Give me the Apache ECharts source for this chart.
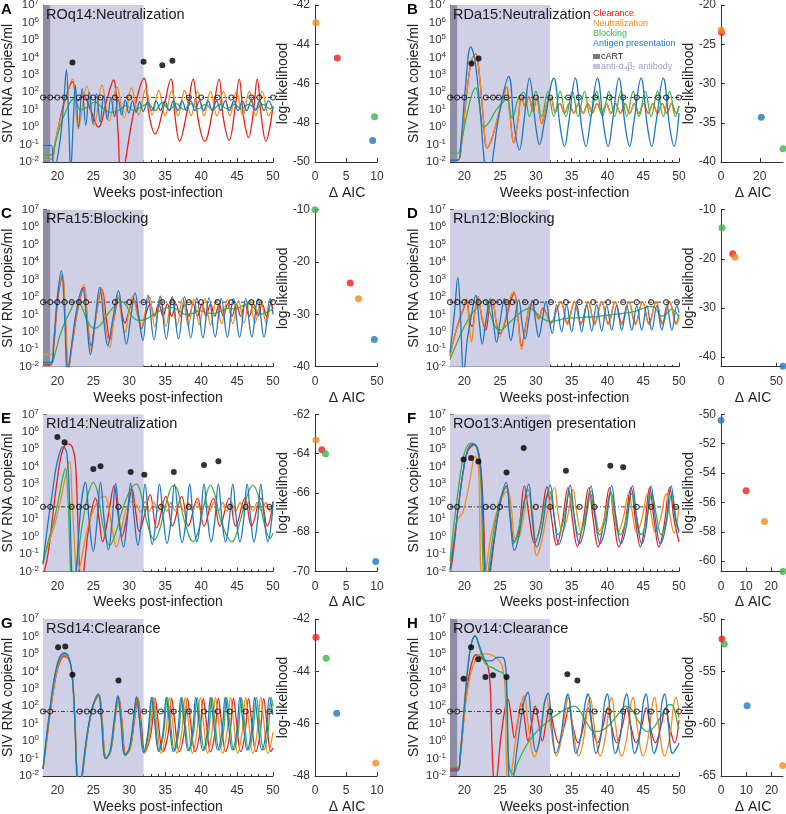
<!DOCTYPE html>
<html>
<head>
<meta charset="UTF-8">
<title>SIV RNA model fits</title>
<script src="https://cdn.jsdelivr.net/npm/echarts@6/dist/echarts.min.js"></script>
<style>
html, body { margin: 0; padding: 0; background: #fff; }
#main { width: 786px; height: 814px; }
</style>
</head>
<body>
<div id="main"></div>
<script>
// curves are [week, log10 copies/ml]; model order is red, orange, green, blue
var aRed = [[18,-1.85],[19.1,-1.85],[19.7,-0.9],[20.6,0.9],[21.4,2.0],[22.1,2.6],[22.8,1.5],[23.6,1.8],[24.6,1.0],[25.7,0.0],[26.9,1.6],[27.8,2.7],[28.4,0.0],[28.9,-3.5],[29.6,-1.6],[30.8,1.2],[32.05,2.8],[32.8,0.6],[33.6,-0.4],[34.7,1.0],[35.8,2.75],[36.4,0.5],[37.0,-0.8],[38.0,0.8],[38.9,2.75],[39.6,0.4],[40.5,-0.8],[41.6,0.9],[42.5,2.75],[43.1,0.5],[43.9,-0.75],[44.7,1.0],[45.3,2.75],[45.9,0.6],[46.6,-0.6],[47.3,1.0],[47.8,2.75],[48.4,0.5],[49.0,-0.8],[50,1.2]];
var aOrange = [[18,-1.85],[19.1,-1.85],[19.8,-0.6],[21.0,1.4],[22.1,2.75],[22.9,-0.1],[24.1,2.35],[25.1,0.1],[26.2,2.4],[27.2,0.35],[28.3,2.3],[29.3,0.55],[30.3,2.25],[31.3,0.7],[32.3,2.2],[33.2,0.7],[34.1,2.1],[35.0,0.65],[35.9,2.1],[36.8,0.65],[37.7,2.1],[38.6,0.65],[39.5,2.05],[40.4,0.65],[41.3,2.05],[42.2,0.65],[43.1,2.05],[44.0,0.65],[44.9,2.05],[45.8,0.65],[46.7,2.05],[47.6,0.65],[48.5,2.05],[49.4,0.65],[50,1.2]];
var aGreen = [[18,-1.6],[19.1,-1.6],[19.7,-0.9],[20.5,0.2],[21.5,1.2],[22.3,1.65],[23.2,1.0],[24.2,1.15],[25.2,1.45],[26.3,1.1],[27.4,0.85],[28.5,0.95],[29.6,1.25],[30.6,0.95],[31.6,1.15],[32.6,1.35],[33.6,0.95],[34.6,1.4],[35.6,1.0],[36.6,1.35],[37.6,1.0],[38.6,1.35],[39.6,1.05],[40.6,1.3],[41.6,1.0],[42.6,1.3],[43.6,1.05],[44.6,1.3],[45.6,1.05],[46.6,1.3],[47.6,1.05],[48.6,1.3],[49.6,1.05],[50,1.15]];
var aBlue = [[18,-1.05],[19.15,-1.05],[19.5,-2.5],[20.3,-1.0],[20.9,1.5],[21.25,3.3],[21.6,0.0],[21.85,-2.5],[22.2,0.2],[22.5,2.4],[22.95,0.0],[23.45,2.2],[23.95,0.1],[24.45,2.0],[24.95,0.2],[25.45,1.9],[25.95,0.3],[26.45,1.8],[26.95,0.45],[27.45,1.7],[27.95,0.6],[28.45,1.6],[28.95,0.7],[29.45,1.55],[29.95,0.8],[30.45,1.5],[30.95,0.85],[31.45,1.45],[31.95,0.9],[32.55,1.45],[33.15,0.95],[33.75,1.5],[34.35,0.95],[34.95,1.5],[35.55,0.95],[36.15,1.5],[36.75,0.95],[37.35,1.5],[37.95,0.95],[38.55,1.5],[39.15,0.95],[39.75,1.5],[40.35,0.95],[40.95,1.5],[41.55,0.95],[42.15,1.5],[42.75,0.95],[43.35,1.5],[43.95,0.95],[44.55,1.5],[45.15,0.95],[45.75,1.5],[46.35,0.95],[46.95,1.5],[47.55,0.95],[48.15,1.5],[48.75,0.95],[49.35,1.5],[50,1.0]];
var aDots = [[22.1,3.7],[32.0,3.75],[34.6,3.55],[36.0,3.8]];
var aCens = [18,19,20,21,23,24,25,26,28,30,38.3,40,42.3,44.2,47,48.1,50];
var aAic = [3.6, 0.15, 9.6, 9.3];
var aLL = [-44.7, -42.9, -47.7, -48.9];

var bOrange = [[18,-1.9],[19.1,-1.9],[19.6,-1.0],[20.3,1.8],[21.0,3.8],[21.6,4.2],[22.1,3.0],[22.6,0.8],[23.2,-1.2],[23.9,-0.6],[24.7,0.6],[25.4,1.6],[25.9,2.3],[26.4,0.6],[26.9,-0.9],[27.5,0.4],[28.0,1.7],[28.5,1.2],[29.0,1.75],[29.6,0.9],[30.1,1.7],[30.8,0.2],[31.5,1.3],[32.1,1.7],[32.7,0.85],[33.35,1.35],[34.0,0.8],[34.65,1.35],[35.3,0.8],[35.95,1.35],[36.6,0.8],[37.25,1.35],[37.9,0.8],[38.55,1.35],[39.2,0.8],[39.85,1.35],[40.5,0.8],[41.15,1.35],[41.8,0.8],[42.45,1.35],[43.1,0.8],[43.75,1.35],[44.4,0.8],[45.05,1.35],[45.7,0.8],[46.35,1.35],[47.0,0.8],[47.65,1.35],[48.3,0.8],[48.95,1.35],[49.6,0.8],[50,1.2]];
var bRed = bOrange; // clearance fit sits under the neutralization fit
var bGreen = [[18,-1.5],[19.1,-1.5],[19.6,-0.8],[20.3,0.6],[21.0,1.8],[21.6,2.25],[22.1,1.3],[22.7,0.0],[23.5,0.3],[24.3,0.9],[25.1,1.3],[25.9,1.6],[26.7,0.5],[27.5,1.6],[28.3,2.0],[29.1,0.6],[30.0,2.05],[30.8,0.6],[31.7,2.05],[32.5,0.6],[33.4,2.05],[34.2,0.6],[35.1,2.05],[35.9,0.6],[36.8,2.05],[37.6,0.6],[38.5,2.05],[39.3,0.6],[40.2,2.05],[41.0,0.6],[41.9,2.05],[42.7,0.6],[43.6,2.05],[44.4,0.6],[45.3,2.05],[46.1,0.6],[47.0,2.05],[47.8,0.6],[48.7,2.05],[49.5,0.6],[50,1.2]];
var bBlue = [[18,-1.9],[19.1,-1.9],[19.5,-1.0],[20.2,2.5],[20.9,4.6],[21.5,3.8],[22.2,1.0],[22.8,-2.0],[23.3,-3.5],[23.9,-2.0],[24.9,0.8],[26.2,2.9],[27.0,0.0],[27.7,-1.3],[28.3,0.2],[29.1,2.8],[30.0,0.0],[30.5,-1.0],[31.2,0.3],[32.5,2.8],[33.4,0.0],[34.0,-1.1],[34.6,0.3],[35.5,2.8],[36.4,0.0],[37.0,-1.1],[37.6,0.3],[38.6,2.8],[39.5,0.0],[40.1,-1.1],[40.7,0.3],[41.6,2.8],[42.5,0.0],[43.1,-1.1],[43.7,0.3],[44.7,2.8],[45.6,0.0],[46.2,-1.1],[46.8,0.3],[47.8,2.8],[48.7,0.0],[49.3,-1.1],[50,0.8]];
var bDots = [[21,3.65],[22,3.93]];
var bCens = [18,19,20,23,24,24.8,25.9,28,30,32,34.5,36,38.3,40.3,42.2,44.1,47.1,48.2,50];
var bAic = [0.3, 0.1, 32, 20.8];
var bLL = [-23.5, -23.2, -38.3, -34.3];

var cRed = [[18,-1.9],[19.1,-1.9],[19.5,-0.8],[20.1,2.0],[20.7,3.2],[21.1,0.8],[21.5,-2.2],[22.1,-0.6],[22.9,1.4],[23.7,2.55],[24.2,0.6],[24.7,-0.8],[25.3,0.7],[26.2,2.45],[26.8,0.8],[27.3,-0.45],[27.9,0.8],[28.5,2.0],[29.0,1.0],[29.4,0.5],[29.9,1.1],[30.6,1.9],[31.2,1.1],[31.7,0.2],[32.3,1.0],[32.9,1.6],[33.5,0.9],[34.1,1.6],[34.7,0.9],[35.3,1.6],[35.9,0.9],[36.5,1.6],[37.1,0.9],[37.7,1.6],[38.3,0.9],[38.9,1.6],[39.5,0.9],[40.1,1.6],[40.7,0.9],[41.3,1.6],[41.9,0.9],[42.5,1.6],[43.1,0.9],[43.7,1.6],[44.3,0.9],[44.9,1.6],[45.5,0.9],[46.1,1.6],[46.7,0.9],[47.3,1.6],[47.9,0.9],[48.5,1.6],[49.1,0.9],[49.7,1.6],[50,1.3]];
var cOrange = [[18,-1.3],[19.1,-1.3],[19.5,-0.5],[20.1,2.2],[20.7,3.3],[21.1,1.0],[21.6,-2.0],[22.1,-0.5],[22.9,1.5],[23.7,2.7],[24.2,0.5],[24.7,-1.1],[25.3,0.6],[26.1,2.55],[26.7,0.5],[27.3,-0.9],[27.8,0.6],[28.4,2.1],[28.9,0.9],[29.4,-0.05],[29.9,1.0],[30.5,2.05],[31.1,1.0],[31.7,0.25],[32.2,1.1],[32.8,2.0],[33.55,0.3],[34.35,2.0],[35.1,0.3],[35.9,1.95],[36.65,0.35],[37.45,1.95],[38.2,0.35],[39.0,1.9],[39.75,0.4],[40.55,1.9],[41.3,0.4],[42.1,1.85],[42.85,0.45],[43.65,1.85],[44.4,0.45],[45.2,1.8],[45.95,0.5],[46.75,1.8],[47.5,0.5],[48.3,1.8],[49.05,0.5],[49.85,1.8],[50,1.7]];
var cGreen = [[18,-1.8],[19.1,-1.8],[19.7,-1.2],[20.3,-0.3],[21.0,0.5],[21.8,1.2],[22.6,1.75],[23.3,1.5],[24.2,0.6],[25.1,0.2],[26.0,0.4],[27.0,1.0],[28.0,1.5],[28.9,1.75],[29.6,1.5],[30.4,0.9],[31.3,0.65],[32.2,0.7],[33.2,0.95],[34.2,1.2],[35.0,1.35],[35.8,1.4],[36.8,1.25],[37.8,1.0],[38.8,1.05],[39.8,1.2],[40.8,1.1],[41.8,1.05],[42.8,1.2],[43.8,1.35],[44.8,1.3],[45.8,1.5],[46.6,1.6],[47.4,1.35],[48.2,1.0],[49.0,1.1],[50,1.3]];
var cBlue = [[18,-1.75],[19.1,-1.75],[19.5,-0.5],[20.0,2.0],[20.55,3.5],[21.0,1.0],[21.4,-2.5],[21.9,-1.0],[22.7,1.3],[23.5,2.5],[24.1,0.5],[24.6,-1.3],[25.2,0.5],[25.9,2.55],[26.5,0.5],[27.0,-0.8],[27.7,0.7],[28.5,2.35],[29.1,0.5],[29.6,-0.7],[30.2,0.8],[30.8,2.25],[31.4,0.6],[31.9,-0.5],[32.6,2.1],[33.45,-0.45],[34.3,2.05],[35.15,-0.4],[36.0,2.0],[36.85,-0.4],[37.7,2.0],[38.55,-0.35],[39.4,1.95],[40.25,-0.35],[41.1,1.95],[41.95,-0.3],[42.8,1.9],[43.65,-0.3],[44.5,1.9],[45.35,-0.3],[46.2,1.9],[47.05,-0.3],[47.9,1.9],[48.75,-0.3],[49.6,1.9],[50,1.0]];
var cDots = [];
var cCens = [18,19,20,21,22,23,24,28,30,32,34.6,36,38.3,40,42.3,44.2,47,48.1,50];
var cAic = [28.4, 35.1, 0, 47.8];
var cLL = [-24.0, -27.0, -10.0, -34.8];

var dRed = [[18,-1.4],[18.6,-0.3],[19.3,0.7],[19.8,1.2],[20.3,1.85],[20.8,0.5],[21.1,0.3],[21.5,1.2],[21.9,2.0],[22.5,0.7],[23.0,0.1],[23.5,1.4],[23.9,1.8],[24.5,0.5],[25.0,-0.1],[25.8,0.7],[26.5,1.8],[27.0,2.2],[27.5,0.8],[28.0,-0.8],[28.6,0.4],[29.3,1.6],[29.8,1.25],[30.4,0.8],[31.0,1.35],[31.5,1.0],[32.1,0.5],[32.9,1.25],[33.5,1.7],[34.4,0.5],[35.4,1.7],[36.3,0.5],[37.3,1.7],[38.2,0.5],[39.2,1.7],[40.1,0.5],[41.1,1.7],[42.0,0.5],[43.0,1.7],[43.9,0.5],[44.9,1.7],[45.8,0.5],[46.8,1.7],[47.7,0.5],[48.7,1.7],[49.6,0.5],[50,1.0]];
var dOrange = [[18,-1.4],[18.6,-0.3],[19.3,0.6],[19.8,1.3],[20.3,1.9],[20.7,0.3],[21.0,-0.6],[21.4,0.8],[21.9,2.0],[22.5,0.8],[22.9,0.3],[23.4,1.4],[23.9,1.8],[24.5,0.4],[24.9,-0.3],[25.7,0.7],[26.4,1.9],[26.9,2.3],[27.5,0.7],[28.0,-1.0],[28.6,0.3],[29.3,1.6],[29.8,1.2],[30.4,0.7],[31.0,1.3],[31.5,1.0],[32.1,0.45],[32.9,1.3],[33.5,1.75],[34.4,0.4],[35.4,1.75],[36.3,0.4],[37.3,1.75],[38.2,0.4],[39.2,1.75],[40.1,0.4],[41.1,1.75],[42.0,0.4],[43.0,1.75],[43.9,0.4],[44.9,1.75],[45.8,0.4],[46.8,1.75],[47.7,0.4],[48.7,1.75],[49.6,0.4],[50,0.8]];
var dGreen = [[18,-1.6],[19,-0.6],[20,0.3],[21,1.0],[22,1.5],[22.8,1.8],[23.5,1.2],[24.3,0.3],[25.0,0.1],[26.0,0.4],[27.0,0.8],[28.0,1.15],[29.1,1.35],[30.0,1.1],[31.0,0.75],[32.0,0.6],[33.0,0.65],[34.0,0.75],[35.0,0.8],[36.0,0.8],[37.0,0.85],[38.0,0.85],[39.0,0.9],[40.0,0.95],[41.0,1.0],[42.0,1.05],[43.0,1.1],[44.0,1.2],[45.0,1.35],[46.0,1.45],[46.7,1.35],[47.5,0.9],[48.2,1.0],[49.0,1.3],[49.6,1.1],[50,0.8]];
var dBlue = [[18,-1.2],[18.6,1.0],[19.1,3.1],[19.5,0.5],[19.9,-2.5],[20.4,-0.5],[21.1,1.2],[21.6,2.1],[22.1,0.5],[22.5,-0.7],[23.0,0.6],[23.6,1.9],[24.1,0.4],[24.5,-0.6],[25.0,0.6],[25.6,1.9],[26.1,0.4],[26.5,-0.5],[27.0,0.6],[27.6,1.85],[28.1,0.4],[28.5,-0.4],[29.0,0.7],[29.5,1.8],[30.0,0.5],[30.4,-0.3],[30.9,0.7],[31.4,1.75],[31.9,0.6],[32.3,-0.1],[32.9,1.55],[33.6,0.0],[34.3,1.55],[35.0,0.0],[35.7,1.55],[36.4,0.0],[37.1,1.55],[37.8,0.05],[38.5,1.55],[39.2,0.05],[39.9,1.5],[40.6,0.1],[41.3,1.5],[42.0,0.1],[42.7,1.5],[43.4,0.1],[44.1,1.5],[44.8,0.1],[45.5,1.5],[46.2,0.1],[46.9,1.5],[47.6,0.1],[48.3,1.5],[49.0,0.1],[49.7,1.5],[50,1.1]];
var dDots = [];
var dCens = [18,19,20,21,22,23,24,24.9,25.9,26.7,28.5,30,32.1,34.2,36.1,38,40.1,42.2,44.1,46.1,48.2,49.7];
var dAic = [10.6, 12.7, 0.9, 56];
var dLL = [-19.0, -19.7, -13.7, -41.9];

var eRed = [[18,-2.3],[18.7,-1.0],[19.3,1.0],[19.9,3.0],[20.5,4.6],[21.0,5.2],[21.6,5.3],[22.1,5.1],[22.5,4.3],[22.8,1.5],[23.1,-2.0],[23.4,-2.8],[23.8,-1.5],[24.4,0.6],[25.3,2.2],[25.8,1.0],[26.3,-0.3],[27.0,1.0],[27.9,2.9],[28.4,1.4],[29.0,0.0],[29.6,1.0],[30.4,2.7],[30.9,1.4],[31.4,0.3],[32.1,1.2],[32.9,2.4],[33.8,0.5],[35.1,2.3],[36.0,0.6],[37.3,2.3],[38.2,0.6],[39.5,2.2],[40.4,0.6],[41.7,2.2],[42.6,0.6],[43.9,2.2],[44.8,0.6],[46.1,2.2],[47.0,0.6],[48.3,2.2],[49.2,0.6],[50,2.0]];
var eOrange = [[18,-1.5],[18.7,-0.5],[19.5,0.5],[20.3,1.8],[21.0,3.2],[21.7,4.3],[22.0,2.5],[22.4,-0.5],[22.7,-2.0],[23.1,-1.8],[23.7,-0.5],[24.4,0.8],[25.2,1.7],[26.0,2.25],[26.6,2.3],[27.2,1.5],[27.8,0.0],[28.2,-0.6],[28.8,0.2],[29.6,1.6],[30.3,2.0],[31.0,1.8],[31.6,1.4],[32.2,2.0],[32.8,1.45],[33.4,1.95],[34.0,1.45],[34.6,1.95],[35.2,1.45],[35.8,1.95],[36.4,1.45],[37.0,1.95],[37.6,1.45],[38.2,1.95],[38.8,1.45],[39.4,1.95],[40.0,1.45],[40.6,1.95],[41.2,1.45],[41.8,1.95],[42.4,1.45],[43.0,1.95],[43.6,1.45],[44.2,1.95],[44.8,1.45],[45.4,1.95],[46.0,1.45],[46.6,1.95],[47.2,1.45],[47.8,1.95],[48.4,1.45],[49.0,1.95],[49.6,1.45],[50,1.7]];
var eGreen = [[18,-1.5],[18.7,-0.3],[19.4,0.7],[20.1,2.0],[20.7,3.3],[21.1,3.9],[21.5,2.0],[21.85,-2.0],[22.2,-3.0],[22.6,-2.0],[23.4,0.5],[24.2,2.3],[25.0,3.1],[25.6,2.5],[26.4,0.5],[27.3,-0.5],[28.1,0.2],[29.1,1.6],[30.2,2.7],[31.0,3.0],[31.7,2.3],[32.6,0.6],[33.5,-0.2],[34.3,0.5],[35.2,2.0],[36.1,2.9],[36.7,2.7],[37.6,1.0],[38.9,-0.3],[39.8,0.6],[40.6,2.2],[41.3,2.95],[41.9,2.4],[42.9,0.7],[44.3,-0.3],[45.3,0.7],[46.3,2.2],[47.2,2.95],[47.9,2.4],[48.8,0.7],[49.6,-0.1],[50,0.2]];
var eBlue = [[18,-1.6],[18.6,0.5],[19.3,2.5],[20.0,4.3],[20.8,5.15],[21.3,4.8],[21.7,2.0],[22.0,-2.0],[22.3,-3.5],[22.7,-1.5],[23.3,1.8],[23.9,3.1],[24.4,1.0],[25.0,-0.85],[25.5,0.8],[26.0,3.1],[26.5,1.0],[27.1,-0.75],[27.6,0.8],[28.1,3.05],[28.6,1.0],[29.2,-0.6],[29.7,0.9],[30.2,3.05],[30.7,1.0],[31.2,-0.5],[31.7,0.9],[32.2,3.0],[32.7,1.0],[33.2,-0.45],[33.7,0.9],[34.2,3.0],[34.75,1.0],[35.25,-0.4],[35.8,0.9],[36.3,3.0],[36.85,1.0],[37.35,-0.35],[37.9,0.9],[38.4,3.0],[38.9,1.0],[39.4,-0.3],[39.9,0.9],[40.4,3.0],[40.9,1.0],[41.4,-0.3],[41.9,0.9],[42.4,3.0],[42.9,1.0],[43.4,-0.3],[43.9,0.9],[44.4,3.0],[44.9,1.0],[45.4,-0.3],[45.9,0.9],[46.4,3.0],[46.9,1.0],[47.35,-0.3],[47.85,0.9],[48.3,3.0],[48.8,1.0],[49.3,-0.3],[49.8,0.9],[50,2.0]];
var eDots = [[20,5.7],[21,5.4],[25,3.87],[26,4.03],[30.2,3.7],[32.1,3.54],[36.2,3.7],[40.4,4.1],[42.4,4.32]];
var eCens = [18,19,22,23,24,28.5,34.4,38.3,44,46.2,49.5];
var eAic = [1.1, 0.15, 1.7, 9.8];
var eLL = [-63.8, -63.3, -64.0, -69.5];

var fRed = [[18,-2.2],[18.5,-0.8],[19.1,1.5],[19.8,3.6],[20.5,4.9],[21.4,5.25],[22.0,4.8],[22.4,3.5],[22.7,1.0],[22.95,-2.0],[23.3,-3.0],[23.7,-1.8],[24.4,0.4],[25.2,2.2],[25.9,2.9],[26.4,1.3],[27.0,-0.3],[27.6,0.3],[28.4,2.9],[29.1,1.0],[29.8,-0.4],[30.6,0.6],[31.55,2.85],[32.2,1.0],[32.9,-0.5],[33.6,0.6],[34.5,2.8],[35.1,1.0],[35.8,-0.55],[36.5,0.6],[37.4,2.8],[38.0,1.0],[38.7,-0.6],[39.4,0.6],[40.3,2.8],[40.9,1.0],[41.6,-0.6],[42.4,0.6],[43.3,2.8],[43.9,1.0],[44.6,-0.6],[45.2,0.6],[45.9,2.8],[46.5,1.0],[47.2,-0.6],[47.9,0.6],[48.7,2.8],[49.3,1.0],[50,-0.3]];
var fOrange = [[18,-2.0],[18.5,-0.2],[19.1,1.0],[19.7,1.3],[20.3,2.2],[20.9,3.5],[21.5,4.6],[21.9,4.3],[22.1,2.5],[22.3,-2.0],[22.6,-3.0],[23.0,-2.0],[23.8,0.2],[24.8,1.8],[25.5,2.4],[26.1,2.6],[26.6,1.5],[27.1,-0.1],[27.7,0.0],[28.4,1.4],[29.0,2.4],[29.5,1.5],[30.1,-1.1],[30.8,-0.3],[31.7,1.6],[32.6,2.8],[33.1,1.3],[33.7,0.25],[34.4,1.1],[35.2,2.7],[35.7,1.4],[36.3,0.3],[37.0,1.1],[37.8,2.6],[38.3,1.4],[38.9,0.3],[39.6,1.1],[40.4,2.5],[40.9,1.35],[41.5,0.25],[42.2,1.05],[43.0,2.5],[43.5,1.3],[44.1,0.2],[44.8,1.0],[45.6,2.45],[46.1,1.3],[46.7,0.2],[47.4,1.0],[48.2,2.45],[48.7,1.3],[49.3,0.2],[50,1.7]];
var fGreen = [[18,-1.4],[18.5,0.5],[19.1,2.5],[19.7,4.2],[20.3,5.1],[21.0,5.35],[21.6,5.2],[22.1,4.3],[22.4,2.0],[22.65,-2.0],[23.0,-3.0],[23.5,-1.5],[24.3,0.8],[25.2,2.4],[25.85,2.8],[26.4,1.3],[26.9,-0.4],[27.5,0.3],[28.3,1.9],[28.9,2.7],[29.5,1.2],[30.0,-0.2],[30.6,0.5],[31.3,2.0],[31.9,2.6],[32.5,1.3],[33.1,0.1],[33.8,0.8],[34.7,2.5],[35.3,1.3],[36.0,0.1],[36.7,0.8],[37.6,2.5],[38.2,1.3],[38.9,0.1],[39.6,0.8],[40.5,2.5],[41.1,1.3],[41.8,0.1],[42.5,0.8],[43.4,2.45],[44.0,1.3],[44.7,0.1],[45.4,0.8],[46.2,2.45],[46.8,1.3],[47.5,0.1],[48.2,0.8],[49.0,2.45],[49.6,1.0],[50,0.2]];
var fBlue = [[18,-1.9],[18.5,-0.5],[19.2,1.8],[19.9,3.9],[20.5,5.0],[21.2,5.3],[21.8,5.1],[22.3,3.8],[22.6,1.0],[22.85,-2.0],[23.2,-3.0],[23.6,-1.8],[24.4,0.5],[25.2,2.3],[25.85,3.1],[26.4,1.0],[27.0,-0.8],[27.6,0.0],[28.4,2.0],[29.0,3.0],[29.5,1.0],[30.1,-0.6],[30.8,0.3],[31.5,2.2],[32.0,2.95],[32.6,1.0],[33.2,-0.45],[33.9,0.5],[34.8,2.95],[35.4,1.0],[36.1,-0.4],[36.8,0.5],[37.7,2.9],[38.3,1.0],[39.0,-0.4],[39.7,0.5],[40.6,2.9],[41.2,1.0],[41.9,-0.4],[42.6,0.5],[43.5,2.9],[44.1,1.0],[44.8,-0.4],[45.4,0.5],[46.1,2.9],[46.7,1.0],[47.4,-0.4],[48.1,0.5],[48.9,2.9],[49.5,1.0],[50,0.3]];
var fDots = [[19.9,4.42],[20.95,4.5],[21.97,4.3],[25.9,3.67],[28.3,5.08],[34.2,3.77],[40.4,4.06],[42.2,3.97]];
var fCens = [18,19,23,24,25,30,32,36.1,38.2,44.1,46.1,49.6];
var fAic = [10.0, 17.3, 24.7, 0];
var fLL = [-55.2, -57.3, -60.7, -50.4];

var gRed = [[18,-1.6],[18.5,0.0],[19.1,1.9],[19.7,3.5],[20.3,4.5],[20.9,4.85],[21.5,4.75],[22.0,4.0],[22.4,1.5],[22.75,-2.0],[23.05,-3.0],[23.45,-2.0],[24.15,0.3],[24.95,2.0],[25.8,2.6],[26.2,1.3],[26.8,-1.0],[27.4,-0.6],[28.0,1.2],[28.55,2.5],[28.95,1.3],[29.55,-0.8],[30.15,-0.4],[30.75,1.3],[31.2,2.45],[31.6,1.3],[32.2,-0.6],[33.0,0.4],[33.6,2.45],[34.0,1.2],[34.7,-0.6],[35.4,0.4],[35.9,2.45],[36.3,1.2],[36.95,-0.6],[37.6,0.4],[38.1,2.45],[38.5,1.2],[39.15,-0.6],[39.8,0.4],[40.3,2.45],[40.7,1.2],[41.3,-0.6],[41.9,0.4],[42.4,2.45],[42.8,1.2],[43.4,-0.6],[44.0,0.4],[44.5,2.45],[44.9,1.2],[45.5,-0.6],[46.1,0.4],[46.6,2.45],[47.0,1.2],[47.6,-0.6],[48.2,0.4],[48.7,2.45],[49.1,1.2],[49.7,-0.6],[50,-0.4]];
var gOrange = [[18,-1.6],[18.5,0.1],[19.1,2.0],[19.7,3.6],[20.3,4.6],[20.9,4.9],[21.5,4.8],[22.0,4.0],[22.4,1.5],[22.75,-2.0],[23.05,-3.0],[23.45,-2.0],[24.15,0.3],[24.95,2.0],[25.8,2.6],[26.2,1.3],[26.8,-1.0],[27.4,-0.6],[28.0,1.2],[28.5,2.55],[28.9,1.3],[29.5,-0.8],[30.1,-0.4],[30.7,1.3],[31.1,2.5],[31.5,1.3],[32.1,-0.7],[32.9,0.5],[33.4,2.5],[33.8,1.2],[34.45,-0.7],[35.1,0.5],[35.6,2.5],[36.0,1.2],[36.65,-0.7],[37.3,0.5],[37.8,2.5],[38.2,1.2],[38.8,-0.7],[39.4,0.5],[39.9,2.5],[40.3,1.2],[40.9,-0.7],[41.5,0.5],[42.0,2.5],[42.4,1.2],[43.0,-0.7],[43.6,0.5],[44.1,2.5],[44.5,1.2],[45.1,-0.7],[45.7,0.5],[46.2,2.5],[46.6,1.2],[47.2,-0.7],[47.8,0.5],[48.3,2.5],[48.7,1.2],[49.3,-0.7],[50,0.5]];
var gGreen = [[18,-1.6],[18.5,0.2],[19.1,2.2],[19.7,3.8],[20.3,4.7],[20.9,4.95],[21.5,4.85],[22.0,4.0],[22.4,1.5],[22.75,-2.0],[23.05,-3.0],[23.45,-2.0],[24.15,0.3],[24.95,2.0],[25.75,2.65],[26.15,1.3],[26.75,-1.0],[27.35,-0.6],[27.95,1.2],[28.45,2.55],[28.85,1.3],[29.45,-0.8],[30.05,-0.4],[30.65,1.3],[31.05,2.5],[31.45,1.3],[32.05,-0.6],[32.7,0.5],[33.2,2.5],[33.6,1.2],[34.2,-0.55],[34.8,0.5],[35.3,2.5],[35.7,1.2],[36.3,-0.55],[36.9,0.5],[37.35,2.5],[37.75,1.2],[38.35,-0.55],[38.95,0.5],[39.45,2.5],[39.85,1.2],[40.45,-0.5],[41.05,0.5],[41.5,2.5],[41.9,1.2],[42.5,-0.5],[43.1,0.5],[43.55,2.5],[43.95,1.2],[44.55,-0.5],[45.15,0.5],[45.6,2.5],[46.0,1.2],[46.6,-0.5],[47.2,0.5],[47.7,2.5],[48.1,1.2],[48.7,-0.5],[49.3,0.5],[49.75,2.5],[50,2.0]];
var gBlue = [[18,-1.6],[18.5,0.3],[19.1,2.3],[19.7,3.9],[20.3,4.8],[20.9,5.05],[21.5,4.9],[22.0,4.0],[22.4,1.5],[22.7,-2.0],[23.0,-3.0],[23.4,-2.0],[24.1,0.3],[24.9,2.0],[25.7,2.7],[26.1,1.3],[26.7,-1.0],[27.3,-0.6],[27.9,1.2],[28.4,2.6],[28.8,1.3],[29.4,-0.8],[30.0,-0.4],[30.6,1.3],[31.0,2.55],[31.4,1.3],[32.0,-0.65],[32.6,0.5],[33.1,2.5],[33.5,1.2],[34.1,-0.6],[34.7,0.5],[35.15,2.5],[35.55,1.2],[36.15,-0.6],[36.75,0.5],[37.2,2.5],[37.6,1.2],[38.2,-0.55],[38.8,0.5],[39.25,2.5],[39.65,1.2],[40.25,-0.55],[40.85,0.5],[41.3,2.5],[41.7,1.2],[42.3,-0.5],[42.9,0.5],[43.35,2.5],[43.75,1.2],[44.35,-0.5],[44.95,0.5],[45.4,2.5],[45.8,1.2],[46.4,-0.5],[47.0,0.5],[47.45,2.5],[47.85,1.2],[48.45,-0.5],[49.05,0.5],[49.5,2.5],[50,1.5]];
var gDots = [[20.1,5.38],[21.1,5.43],[22.1,3.81],[28.5,3.48]];
var gCens = [18,19,23.1,24.1,25,26,30.2,32.1,34.4,36.2,38.3,40.4,42.3,44,46.2,49.5];
var gAic = [0.15, 9.8, 1.8, 3.5];
var gLL = [-42.7, -47.5, -43.5, -45.6];

var hRed = [[18,-1.6],[19.1,-1.6],[19.5,-0.6],[20.0,1.5],[20.6,3.6],[21.2,4.7],[21.7,4.95],[22.3,4.8],[22.9,4.6],[23.3,4.3],[23.6,3.3],[23.85,0.0],[24.05,-2.0],[24.3,-3.0],[24.6,-2.0],[25.2,0.5],[26.1,2.4],[26.6,1.2],[27.0,0.2],[27.5,1.2],[28.0,2.2],[28.5,1.0],[28.9,0.0],[29.4,1.0],[29.9,2.0],[30.4,1.0],[30.9,0.0],[31.4,1.0],[31.9,1.95],[32.5,0.8],[33.2,-0.1],[34.0,0.9],[34.6,1.9],[35.2,0.8],[35.9,-0.1],[36.7,0.9],[37.3,1.9],[37.9,0.8],[38.6,-0.1],[39.4,0.9],[40.0,1.9],[40.6,0.8],[41.3,-0.1],[42.1,0.9],[42.7,1.9],[43.3,0.8],[44.0,-0.1],[44.8,0.9],[45.4,1.9],[46.0,0.8],[46.7,-0.1],[47.5,0.9],[48.1,1.9],[48.7,0.8],[49.4,-0.1],[50,1.2]];
var hOrange = [[18,-1.5],[19.1,-1.5],[19.5,-0.5],[20.0,1.5],[20.6,3.3],[21.2,4.3],[21.8,4.8],[22.4,5.0],[23.2,5.0],[24.0,4.9],[24.7,4.7],[25.3,4.3],[25.7,3.0],[25.95,-2.0],[26.3,-3.0],[26.7,-1.5],[27.4,0.8],[28.0,2.2],[28.4,2.6],[28.9,1.0],[29.8,-0.9],[30.6,0.2],[31.2,2.2],[31.5,2.5],[32.0,1.0],[32.9,-0.85],[33.6,0.2],[34.3,2.2],[34.6,2.5],[35.1,1.0],[36.0,-0.85],[36.7,0.2],[37.3,2.2],[37.6,2.5],[38.1,1.0],[39.0,-0.85],[39.7,0.2],[40.3,2.2],[40.6,2.5],[41.1,1.0],[42.0,-0.85],[42.7,0.2],[43.3,2.2],[43.6,2.5],[44.1,1.0],[45.0,-0.85],[45.7,0.2],[46.3,2.2],[46.6,2.5],[47.1,1.0],[48.0,-0.85],[48.7,0.2],[49.3,2.2],[49.6,2.5],[50,1.3]];
var hGreen = [[18,-1.5],[19.1,-1.5],[19.4,-0.8],[19.9,1.5],[20.5,4.3],[21.0,5.6],[21.5,6.0],[22.0,5.5],[22.6,4.7],[23.3,4.3],[24.0,4.2],[24.8,4.0],[25.4,3.9],[25.8,3.5],[26.0,1.0],[26.3,-1.5],[26.8,-1.9],[27.5,-1.2],[28.6,-0.3],[29.8,0.4],[31.0,0.9],[32.2,1.3],[33.4,1.65],[34.5,1.9],[35.4,2.0],[36.2,1.7],[37.2,1.0],[38.2,0.55],[39.2,0.6],[40.4,1.0],[41.6,1.6],[42.6,2.0],[43.4,1.8],[44.4,1.1],[45.5,0.55],[46.5,0.8],[47.6,1.5],[48.7,2.1],[49.2,2.0],[49.7,1.2],[50,0.7]];
var hBlue = [[18,-1.7],[19.1,-1.7],[19.4,-1.0],[19.9,1.5],[20.5,4.2],[21.0,5.6],[21.5,6.05],[22.0,5.6],[22.6,4.9],[23.1,4.6],[23.8,4.6],[24.6,4.8],[25.3,4.8],[25.7,4.5],[25.95,3.0],[26.2,-2.0],[26.5,-3.0],[26.9,-2.0],[27.5,0.0],[28.3,2.2],[28.9,2.8],[29.4,1.0],[30.0,-0.6],[30.6,0.3],[31.2,2.2],[31.7,2.75],[32.2,1.0],[32.8,-0.7],[33.5,0.3],[34.1,2.2],[34.5,2.7],[35.0,1.0],[35.6,-0.7],[36.3,0.3],[36.9,2.2],[37.3,2.7],[37.8,1.0],[38.4,-0.7],[39.1,0.3],[39.6,2.2],[40.0,2.7],[40.5,1.0],[41.1,-0.7],[41.8,0.3],[42.3,2.2],[42.7,2.7],[43.2,1.0],[43.8,-0.7],[44.5,0.3],[45.0,2.2],[45.4,2.7],[45.9,1.0],[46.5,-0.7],[47.2,0.3],[47.6,2.2],[48.0,2.7],[48.5,1.0],[49.1,-0.7],[49.8,-0.3],[50,-0.1]];
var hDots = [[19.9,3.58],[20.95,5.38],[21.95,4.69],[22.95,3.67],[24.0,3.77],[25.9,3.67],[34.4,3.83],[35.8,3.48]];
var hCens = [18,19,24.8,28,30,32,38.2,40.2,42.2,44.1,46.1,48.2,50];
var hAic = [0.4, 24.4, 1.3, 10.3];
var hLL = [-51.9, -64.0, -52.4, -58.3];

var modelNames = ['Clearance', 'Neutralization', 'Blocking', 'Antigen presentation'];
var modelColors = ['#e8201c', '#f28c1e', '#3db24a', '#1f77c2'];
var weekTicks = [20, 25, 30, 35, 40, 45, 50];
var detectLimit = 1.7; // log10 of 50 copies/ml

var panels = [
    {key: 'A', title: 'ROq14:Neutralization', art: true, curves: [aRed, aOrange, aGreen, aBlue], dots: aDots, cens: aCens, aic: aAic, ll: aLL, aicMax: 10, aicTicks: [0, 5, 10], llMin: -50, llMax: -42, llTicks: [-50, -48, -46, -44, -42]},
    {key: 'B', title: 'RDa15:Neutralization', art: true, curves: [bRed, bOrange, bGreen, bBlue], dots: bDots, cens: bCens, aic: bAic, ll: bLL, aicMax: 32, aicTicks: [0, 20], llMin: -40, llMax: -20, llTicks: [-40, -35, -30, -25, -20]},
    {key: 'C', title: 'RFa15:Blocking', art: true, curves: [cRed, cOrange, cGreen, cBlue], dots: cDots, cens: cCens, aic: cAic, ll: cLL, aicMax: 50, aicTicks: [0, 50], llMin: -40, llMax: -10, llTicks: [-40, -30, -20, -10]},
    {key: 'D', title: 'RLn12:Blocking', art: false, curves: [dRed, dOrange, dGreen, dBlue], dots: dDots, cens: dCens, aic: dAic, ll: dLL, aicMax: 56, aicTicks: [0, 50], llMin: -42, llMax: -10, llTicks: [-40, -30, -20, -10]},
    {key: 'E', title: 'RId14:Neutralization', art: false, curves: [eRed, eOrange, eGreen, eBlue], dots: eDots, cens: eCens, aic: eAic, ll: eLL, aicMax: 10, aicTicks: [0, 5, 10], llMin: -70, llMax: -62, llTicks: [-70, -68, -66, -64, -62]},
    {key: 'F', title: 'ROo13:Antigen presentation', art: false, curves: [fRed, fOrange, fGreen, fBlue], dots: fDots, cens: fCens, aic: fAic, ll: fLL, aicMax: 24.7, aicTicks: [0, 10, 20], llMin: -60.7, llMax: -50, llTicks: [-60, -58, -56, -54, -52, -50]},
    {key: 'G', title: 'RSd14:Clearance', art: false, curves: [gRed, gOrange, gGreen, gBlue], dots: gDots, cens: gCens, aic: gAic, ll: gLL, aicMax: 10, aicTicks: [0, 5, 10], llMin: -48, llMax: -42, llTicks: [-48, -46, -44, -42]},
    {key: 'H', title: 'ROv14:Clearance', art: true, curves: [hRed, hOrange, hGreen, hBlue], dots: hDots, cens: hCens, aic: hAic, ll: hLL, aicMax: 24.5, aicTicks: [0, 10, 20], llMin: -65, llMax: -50, llTicks: [-65, -60, -55, -50]}
];

var FONT = '"Liberation Sans", Arial, Helvetica, sans-serif';
var INK = '#333';
var rowTop = [5, 209.7, 414.4, 619];
var plotH = 157;

var grids = [], xAxes = [], yAxes = [], series = [], graphics = [];

function axisLine() {
    return {show: true, onZero: false, lineStyle: {color: INK, width: 1}};
}

panels.forEach(function (p, i) {
    var col = i % 2, row = Math.floor(i / 2);
    var top = rowTop[row];
    var mainLeft = col ? 450 : 43, mainW = col ? 229 : 230;
    var scLeft = col ? 721 : 315, scW = 62;
    var gi = grids.length;

    grids.push({left: mainLeft, top: top, width: mainW, height: plotH, containLabel: false, outerBoundsMode: 'none'});
    grids.push({left: scLeft, top: top, width: scW, height: plotH, containLabel: false, outerBoundsMode: 'none'});

    // time course axes
    xAxes.push({
        type: 'value', gridIndex: gi, min: 18, max: 50,
        axisLine: axisLine(),
        axisTick: {show: true, inside: true, length: 4, customValues: weekTicks, lineStyle: {color: INK}},
        minorTick: {show: true, splitNumber: 5, length: 2, lineStyle: {color: INK}},
        axisLabel: {customValues: weekTicks, fontSize: 12, fontFamily: FONT, color: INK, margin: 9},
        splitLine: {show: false}
    });
    yAxes.push({
        type: 'value', gridIndex: gi, min: -2, max: 7, interval: 1,
        axisLine: axisLine(),
        axisTick: {show: true, inside: true, length: 4, lineStyle: {color: INK}},
        axisLabel: {
            margin: 4,
            formatter: function (v) { return '{b|10}{s|' + v + '}'; },
            rich: {
                b: {fontSize: 11.5, fontFamily: FONT, color: INK, lineHeight: 14},
                s: {fontSize: 8, fontFamily: FONT, color: INK, lineHeight: 8, verticalAlign: 'top'}
            }
        },
        splitLine: {show: false}
    });
    // AIC / likelihood axes
    xAxes.push({
        type: 'value', gridIndex: gi + 1, min: 0, max: p.aicMax,
        axisLine: axisLine(),
        axisTick: {show: true, inside: true, length: 4, customValues: p.aicTicks, lineStyle: {color: INK}},
        axisLabel: {customValues: p.aicTicks, fontSize: 12, fontFamily: FONT, color: INK, margin: 9},
        splitLine: {show: false}
    });
    yAxes.push({
        type: 'value', gridIndex: gi + 1, min: p.llMin, max: p.llMax,
        axisLine: axisLine(),
        axisTick: {show: true, inside: true, length: 4, customValues: p.llTicks, lineStyle: {color: INK}},
        axisLabel: {customValues: p.llTicks, fontSize: 12, fontFamily: FONT, color: INK, margin: 5},
        splitLine: {show: false}
    });

    // treatment shading
    var bands = [[{xAxis: 18, itemStyle: {color: '#cfcfe6'}}, {xAxis: 32}]];
    if (p.art) bands.push([{xAxis: 18, itemStyle: {color: '#8d8da6'}}, {xAxis: 19}]);
    series.push({
        type: 'line', xAxisIndex: gi, yAxisIndex: gi, data: [[18, -9]], showSymbol: false,
        silent: true, z: 0, lineStyle: {width: 0},
        markArea: {silent: true, data: bands, itemStyle: {opacity: 1}}
    });
    // detection limit
    series.push({
        type: 'line', xAxisIndex: gi, yAxisIndex: gi, data: [[18, detectLimit], [50, detectLimit]],
        showSymbol: false, silent: true, z: 2,
        lineStyle: {color: '#111', width: 0.8, type: [4, 2, 1, 2]}
    });
    // model fits
    p.curves.forEach(function (c, k) {
        series.push({
            type: 'line', xAxisIndex: gi, yAxisIndex: gi, data: c, showSymbol: false,
            smooth: 0.4, clip: true, silent: true, z: 3,
            lineStyle: {color: modelColors[k], width: 1.3}
        });
    });
    // censored and measured viral loads
    series.push({
        type: 'scatter', xAxisIndex: gi, yAxisIndex: gi, z: 5, silent: true,
        data: p.cens.map(function (t) { return [t, detectLimit]; }),
        symbolSize: 5, itemStyle: {color: 'rgba(255,255,255,0)', borderColor: '#111', borderWidth: 1.1}
    });
    series.push({
        type: 'scatter', xAxisIndex: gi, yAxisIndex: gi, z: 5, silent: true,
        data: p.dots, symbolSize: 6, itemStyle: {color: '#000'}
    });
    // model comparison
    series.push({
        type: 'scatter', xAxisIndex: gi + 1, yAxisIndex: gi + 1, z: 5, silent: true, clip: false,
        symbolSize: 7,
        data: p.aic.map(function (x, k) {
            return {value: [x, p.ll[k]], itemStyle: {color: modelColors[k]}};
        })
    });

    // texts
    var offs = col ? 406 : 0;
    graphics.push({type: 'text', x: 1 + offs, y: top - 3,
        style: {text: p.key, font: 'bold 15px ' + FONT, fill: '#000', textVerticalAlign: 'top'}});
    graphics.push({type: 'text', x: mainLeft + 3, y: top + 2, z: 10,
        style: {text: p.title, font: '14.5px ' + FONT, fill: '#1a1a1a', textVerticalAlign: 'top'}});
    graphics.push({type: 'text', x: 8 + offs, y: top + plotH / 2, rotation: Math.PI / 2,
        style: {text: 'SIV RNA copies/ml', font: '14px ' + FONT, fill: '#222', textAlign: 'center', textVerticalAlign: 'middle'}});
    graphics.push({type: 'text', x: mainLeft + mainW / 2, y: top + plotH + 31,
        style: {text: 'Weeks post-infection', font: '14px ' + FONT, fill: '#222', textAlign: 'center', textVerticalAlign: 'middle'}});
    graphics.push({type: 'text', x: 283 + offs, y: top + plotH / 2, rotation: Math.PI / 2,
        style: {text: 'log-likelihood', font: '14px ' + FONT, fill: '#222', textAlign: 'center', textVerticalAlign: 'middle'}});
    graphics.push({type: 'text', x: scLeft + 32, y: top + plotH + 31,
        style: {text: 'Δ AIC', font: '14px ' + FONT, fill: '#222', textAlign: 'center', textVerticalAlign: 'middle'}});
});

// legend in panel B
var legY = [13.3, 24, 34, 44];
modelNames.forEach(function (name, k) {
    graphics.push({type: 'text', x: 593, y: legY[k], z: 10,
        style: {text: name, font: '9px ' + FONT, fill: modelColors[k], textVerticalAlign: 'middle'}});
});
graphics.push({type: 'rect', shape: {x: 593, y: 54, width: 7, height: 5}, style: {fill: '#7a7a7a'}, z: 10});
graphics.push({type: 'text', x: 601, y: 57, z: 10,
    style: {text: 'cART', font: '9px ' + FONT, fill: '#222', textVerticalAlign: 'middle'}});
graphics.push({type: 'rect', shape: {x: 593, y: 64, width: 7, height: 5}, style: {fill: '#c2c2e2'}, z: 10});
graphics.push({type: 'text', x: 601, y: 66.5, z: 10,
    style: {text: 'anti-α₄β₇ antibody', font: '9px ' + FONT, fill: '#9c9cd2', textVerticalAlign: 'middle'}});

var chart = echarts.init(document.getElementById('main'));
chart.setOption({
    animation: false,
    backgroundColor: '#fff',
    grid: grids,
    xAxis: xAxes,
    yAxis: yAxes,
    series: series,
    graphic: {elements: graphics}
});
</script>
</body>
</html>
